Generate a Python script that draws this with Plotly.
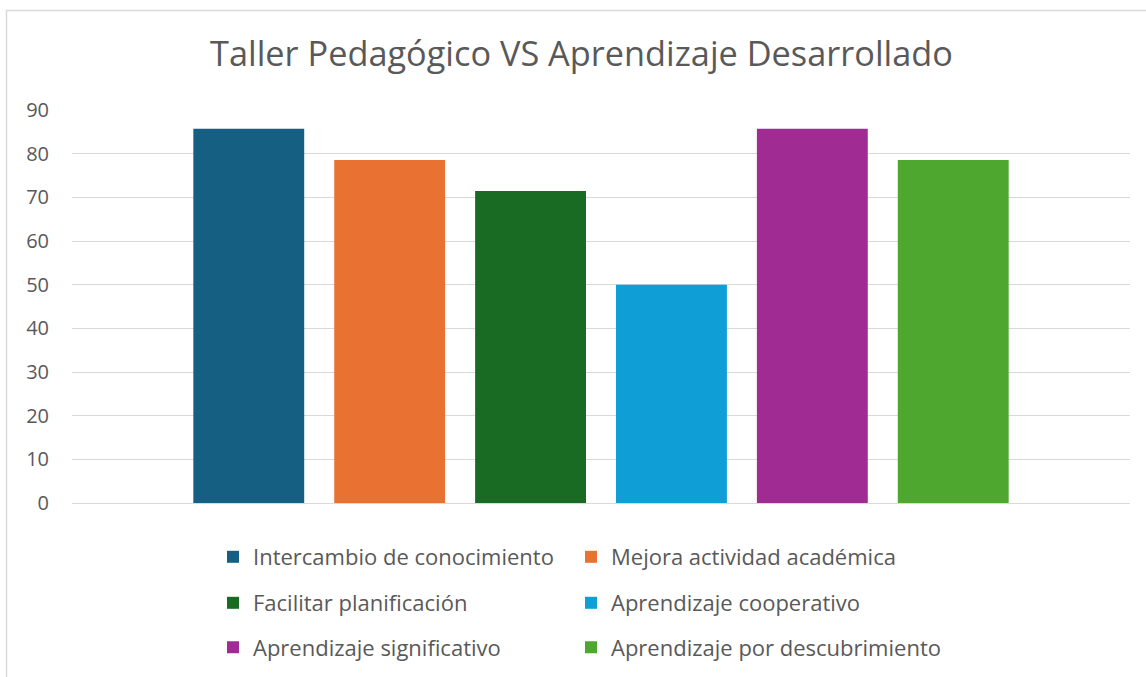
import plotly.graph_objects as go

categories = ["Intercambio de conocimiento", "Mejora actividad académica",
              "Facilitar planificación", "Aprendizaje cooperativo",
              "Aprendizaje significativo", "Aprendizaje por descubrimiento"]
values = [85.71, 78.57, 71.43, 50.0, 85.71, 78.57]
colors = ["#156082", "#E97132", "#196B24", "#0F9ED5", "#A02B93", "#4EA72E"]
y_ticks = [0, 10, 20, 30, 40, 50, 60, 70, 80, 90]

FONT = "Open Sans"
TXT = "#595959"

W, H = 1146, 677
L, R, T, B = 72, 16, 110, 174
pw, ph = W - L - R, H - T - B

def py(px_y):
    return (H - B - px_y) / ph

def px_x(px):
    return (px - L) / pw

# legend layout: two columns, three rows (text start x, row centre y)
col_text_x = [253, 611]
row_y = [557, 603, 647.5]

fig = go.Figure()
legend_layout = {}
for i, (name, v, c) in enumerate(zip(categories, values, colors)):
    lid = "legend" if i == 0 else f"legend{i + 1}"
    fig.add_trace(go.Bar(x=["Serie 1"], y=[v], name=name, marker_color=c,
                         marker_line_width=0, legend=lid))
    legend_layout[lid] = dict(
        x=px_x(col_text_x[i % 2] - 40), y=py(row_y[i // 2]),
        xanchor="left", yanchor="middle",
        font=dict(family=FONT, size=22, color=TXT),
        bgcolor="rgba(0,0,0,0)", itemclick=False, itemdoubleclick=False)

fig.update_layout(
    width=W, height=H,
    margin=dict(l=L, r=R, t=T, b=B, autoexpand=False),
    paper_bgcolor="white", plot_bgcolor="white",
    barmode="group", bargap=0.201, bargroupgap=0.213,
    title=dict(text="Taller Pedagógico VS Aprendizaje Desarrollado",
               font=dict(family=FONT, size=34.3, color=TXT),
               xref="container", yref="container", x=581.5 / W, xanchor="center",
               y=1 - 54 / H, yanchor="middle"),
    xaxis=dict(range=[-0.5, 0.5], showticklabels=False, showgrid=False,
               zeroline=False, showline=False, ticks=""),
    yaxis=dict(range=[0, 90], tickvals=y_ticks, ticks="", showgrid=True,
               gridcolor="#D9D9D9", gridwidth=1, zeroline=True,
               zerolinecolor="#D9D9D9", zerolinewidth=1, showline=False,
               tickfont=dict(family=FONT, size=20, color=TXT),
               ticklabelstandoff=22),
    showlegend=True,
    **legend_layout,
)

fig.add_shape(type="rect", xref="paper", yref="paper",
              x0=px_x(6.5), x1=px_x(W + 20), y0=py(H + 20), y1=py(10.5),
              line=dict(color="#D9D9D9", width=1.5), fillcolor="rgba(0,0,0,0)",
              layer="below")

fig.write_html("out.html", config={"displayModeBar": False},
               post_script="document.body.style.margin='0';document.body.style.overflow='hidden';")
